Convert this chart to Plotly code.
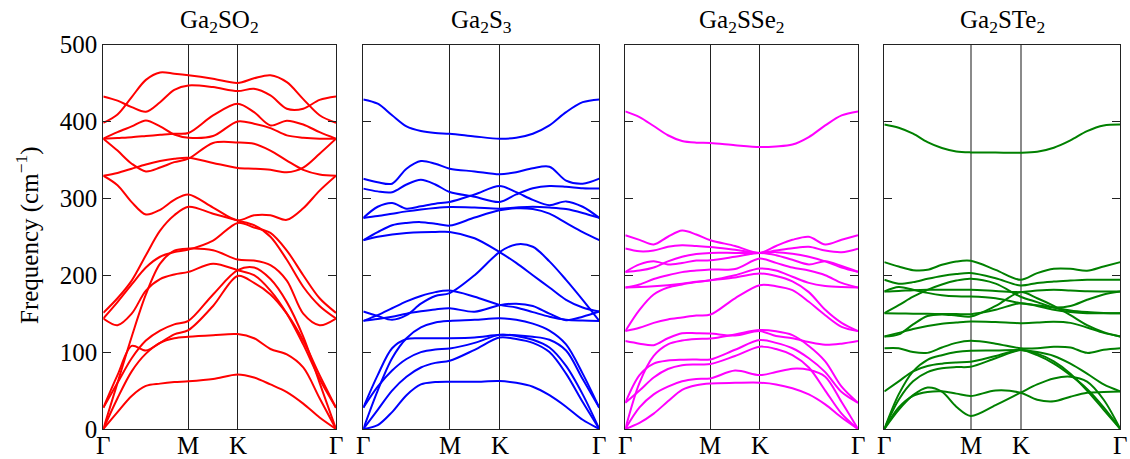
import numpy as np
import plotly.graph_objects as go

# ---- k-path (hexagonal BZ: Γ-M-K-Γ), sample points along the path ----
SEG_GM = 1 / np.sqrt(3)
SEG_MK = 1 / 3
SEG_KG = 2 / 3
k_path = ([SEG_GM * i / 6 for i in range(7)]
          + [SEG_GM + SEG_MK / 2, SEG_GM + SEG_MK]
          + [SEG_GM + SEG_MK + SEG_KG * j / 6 for j in range(1, 7)])
k_tick_vals = [0, SEG_GM, SEG_GM + SEG_MK, SEG_GM + SEG_MK + SEG_KG]
k_tick_text = ["Γ", "M", "K", "Γ"]
freq_ticks = [0, 100, 200, 300, 400, 500]

titles = ["Ga<sub>2</sub>SO<sub>2</sub>", "Ga<sub>2</sub>S<sub>3</sub>",
          "Ga<sub>2</sub>SSe<sub>2</sub>", "Ga<sub>2</sub>STe<sub>2</sub>"]
colors = ["#ff0000", "#0000ff", "#ff00ff", "#008000"]

# ---- phonon bands (cm^-1) read at the 15 k-points ----
ga2so2_bands = [
    [0, 22, 43, 56, 59, 61, 62, 65, 71, 67, 58, 48, 33, 15, 0],
    [0, 40, 75, 98, 112, 118, 120, 122, 123.4, 118, 104, 97, 80, 40, 0],
    [27.7, 70, 108, 102, 112, 123, 128.6, 160, 199, 190, 175, 150, 115, 70, 27.7],
    [27.7, 60, 92, 115, 128, 136, 140.7, 175, 206.5, 210, 195, 165, 120, 60, 0],
    [0, 60, 120, 175, 215, 232, 234.6, 232.5, 220.3, 219, 213, 193, 150, 135, 143.7],
    [143.7, 135, 150, 180, 195, 201, 204.3, 215, 206.5, 200, 180, 150, 110, 65, 27.7],
    [143.7, 165, 188, 210, 224, 230, 233.3, 245, 268, 262, 255, 232, 200, 170, 151],
    [151, 170, 193, 226, 258, 278, 289, 280, 271, 265, 250, 220, 185, 160, 143.7],
    [329.4, 317, 295, 279, 285, 298, 305, 288, 271.4, 278, 278, 272, 287, 310, 329.4],
    [329.4, 333, 338.5, 344, 348.5, 351.5, 352.8, 346, 339.4, 338.5, 337, 333.8, 340, 358, 377.5],
    [377.5, 362, 345, 335, 340, 347, 351.5, 372, 372.7, 371, 362, 349, 337, 331, 329.4],
    [377.5, 386, 393.5, 401.3, 393.5, 383, 378.8, 381, 400, 397, 391.3, 381.8, 378.8, 377.5, 377.5],
    [377.5, 378.5, 379.5, 381, 382.5, 384, 385, 407.8, 423, 412, 394.8, 401, 396, 386, 377.5],
    [432.5, 427, 418.6, 412.5, 425, 441, 446.8, 444.6, 439.4, 442.4, 433.8, 416.5, 416.5, 428, 432.5],
    [398, 409, 431.6, 454, 463.6, 462, 460, 455.5, 450, 456, 460, 451, 429, 408, 398],
]

ga2s3_bands = [
    [0, 5, 22, 44, 58, 61, 61.5, 61.5, 62.3, 60, 55, 44, 29, 12, 0],
    [0, 25, 50, 68, 80, 86, 88.7, 103, 118.9, 117, 112, 100, 72, 35, 0],
    [27.7, 55, 76, 91, 100, 103.5, 104.8, 112, 122.4, 121, 116, 106, 82, 45, 0],
    [27.7, 70, 105, 117, 118, 118, 118, 119, 122.4, 122, 120, 116, 102, 65, 27.7],
    [0, 50, 92, 118, 132, 138.5, 140.6, 142, 144, 142, 137, 128, 110, 72, 27.7],
    [140.6, 143, 146, 150, 153, 155.5, 157, 152.5, 161, 163, 160, 150, 141.5, 146, 152.7],
    [152.7, 147, 142, 148, 163, 173, 176.7, 200, 230, 240, 237, 218, 194, 168, 140.6],
    [140.6, 148, 157, 166, 173, 178, 180, 172, 161.4, 158, 152, 146, 142, 141, 140.6],
    [245.5, 250, 253, 255, 256, 256.2, 256.3, 248, 230, 216, 200, 184, 168, 158, 152.7],
    [245.5, 256, 265, 268, 269, 267, 264.5, 275, 284.4, 287, 286, 280, 268, 256, 245.5],
    [274.5, 277, 280, 283, 285.5, 287.5, 288.7, 288, 286.5, 288, 289, 288, 286, 281, 274.5],
    [274.5, 289, 294, 286.5, 289.6, 293, 295.2, 305, 316, 308, 298, 291, 296, 289, 274.5],
    [312.6, 309, 308, 318, 324, 318, 308.2, 302, 295.2, 305, 313, 316, 315, 313, 312.6],
    [325.5, 321, 319, 338.5, 348.5, 345, 338.5, 335, 331.2, 334, 339, 341, 323, 319, 325.5],
    [428.6, 423, 408, 393.5, 387.4, 384.8, 384, 380.5, 377.5, 378.8, 384, 394.8, 412, 425, 428.6],
]

ga2sse2_bands = [
    [0, 8, 20, 36, 51, 57, 59.3, 60, 60.2, 58, 53, 45, 32, 15, 0],
    [0, 28, 45, 55, 62, 65, 65.8, 76, 70.1, 74, 78.5, 77, 68, 35, 0],
    [34, 50, 67, 78, 83, 84, 84.4, 95, 107, 104, 96, 80, 50, 20, 0],
    [34, 70, 85, 89, 90, 90.3, 90.5, 103, 115.6, 112, 105, 92, 74, 48, 34],
    [0, 60, 95, 110, 115, 117, 117.7, 123, 128.6, 127, 122, 108, 88, 55, 34],
    [114.3, 111, 109, 118, 124.5, 124.5, 124.2, 121.5, 127.3, 121, 118, 113, 109.5, 111, 114.3],
    [127.3, 131.6, 138, 142.4, 145, 147.6, 148.9, 170, 187, 185.7, 180.5, 165.4, 148, 132.9, 127.3],
    [127.3, 155, 175, 184, 188, 191, 193.5, 197, 202.2, 199, 192, 178, 155, 138, 127.3],
    [184, 184.5, 185.5, 187, 189, 191.5, 193.5, 200, 208.7, 206, 198, 190, 186, 184.5, 184],
    [184, 188, 195, 200, 204, 206, 207.4, 208, 221.6, 216, 210, 206, 200, 190, 184],
    [204.3, 214, 218, 214, 216, 219, 219.5, 224, 229, 226, 220, 214, 218, 212, 204.3],
    [204.3, 206, 210, 218, 224, 227.5, 229, 229, 229, 230, 228, 224, 218, 210, 204.3],
    [234.6, 231, 232, 237, 239, 238, 236.8, 233, 229, 232, 235, 237, 232, 230, 234.6],
    [252, 246, 240, 250, 258, 253, 245.5, 238, 229, 238, 246, 250, 240, 246, 252],
    [413, 405.6, 394, 382, 374.5, 372.3, 371.9, 369, 366.7, 367.5, 370, 379.7, 394.8, 407.8, 413],
]

ga2ste2_bands = [
    [0, 25, 44, 54, 48.5, 29, 17, 31, 47.2, 58, 65.8, 68, 61.5, 38, 0],
    [0, 28, 43, 48, 49, 46, 42.9, 50, 47.2, 38, 36, 42, 47, 48, 48.9],
    [0, 38, 62, 74, 79, 80.5, 81, 92, 102.6, 98, 88, 72, 50, 25, 0],
    [48.9, 62, 75, 82, 85, 86.5, 87.4, 95, 102.6, 96, 85, 70, 52, 28, 0],
    [0, 45, 75, 90, 96, 100, 101.7, 102, 102.6, 100, 95, 85, 72, 58, 48.9],
    [105, 105, 100, 99, 106, 112, 114.6, 111, 105, 105, 107, 106, 99, 103, 105],
    [120.2, 125, 130, 134, 137, 138.5, 139.7, 139, 137.6, 138.5, 139.5, 138, 132, 125, 120.2],
    [120.2, 123, 136, 147, 149, 147.5, 146.2, 160, 178, 170, 160, 148, 135, 126, 120.2],
    [150.6, 150.3, 150, 149.8, 149.5, 149.4, 149.3, 155, 163.6, 160, 155, 152, 150.5, 150.5, 150.6],
    [150.6, 161, 172, 181, 188, 193, 195.3, 189, 172, 165, 158, 154, 152, 151, 150.6],
    [178.8, 179.5, 180.5, 181, 181, 181, 181, 179.5, 178, 180, 181, 180, 179, 178.8, 178.8],
    [178.8, 184.5, 181, 177, 174, 172.5, 172.3, 170, 163.6, 161, 158, 160, 168, 175, 178.8],
    [194, 189, 191, 195.3, 199, 201.5, 202.7, 196, 186.6, 190, 191.8, 193, 194, 194, 194],
    [217, 211.3, 206.5, 207, 213.5, 217.8, 218.7, 207, 194, 202.7, 208.3, 208.3, 205.7, 211.3, 217],
    [396, 391.8, 384, 373, 365.4, 361, 359.7, 359.5, 359.3, 360.6, 365.8, 375.3, 387.4, 394.8, 396],
]

panels = [ga2so2_bands, ga2s3_bands, ga2sse2_bands, ga2ste2_bands]

# ---- layout geometry (pixels of the 1130x459 page) ----
W, H = 1130, 459
panel_px = [(103.3, 336.0), (363.3, 599.3), (625.3, 858.0), (884.3, 1120.3)]
top_px, bottom_px = 44.5, 429.0
vline_colors = ["#222222", "#222222", "#222222", "#8a8a8a"]

FONT = "Liberation Serif, Times New Roman, Times, serif"
fig = go.Figure()
annotations = []
layout = dict(
    width=W, height=H,
    margin=dict(l=0, r=0, t=0, b=0, pad=0, autoexpand=False),
    paper_bgcolor="white", plot_bgcolor="white", showlegend=False,
    font=dict(family=FONT, color="black"),
)
total = k_tick_vals[-1]
for i, bands in enumerate(panels):
    sfx = "" if i == 0 else str(i + 1)
    for band in bands:
        fig.add_trace(go.Scatter(
            x=k_path, y=band, mode="lines",
            line=dict(color=colors[i], width=2, shape="spline", smoothing=0.9),
            xaxis="x" + sfx, yaxis="y" + sfx, hoverinfo="skip"))
    x0, x1 = panel_px[i]
    layout["xaxis" + sfx] = dict(
        domain=[x0 / W, x1 / W], range=[0, total], anchor="y" + sfx,
        showline=True, mirror=True, linecolor="#222222", linewidth=1.3,
        tickvals=k_tick_vals, showticklabels=False, ticks="",
        showgrid=True, gridcolor=vline_colors[i], gridwidth=1.3 if i < 3 else 2,
        zeroline=False, fixedrange=True, automargin=False)
    layout["yaxis" + sfx] = dict(
        domain=[(H - bottom_px) / H, (H - top_px) / H], range=[0, 500],
        anchor="x" + sfx, showline=True, mirror="ticks", linecolor="#222222",
        linewidth=1.3, ticks="inside", ticklen=8, tickwidth=1.3, tickcolor="#222222",
        tickvals=freq_ticks, showticklabels=(i == 0),
        tickfont=dict(family=FONT, size=25, color="black"),
        showgrid=False, zeroline=False, fixedrange=True, automargin=False)
    # high-symmetry point labels under the axis
    for kv, kt in zip(k_tick_vals, k_tick_text):
        annotations.append(dict(
            text=kt, x=kv, xref="x" + sfx, y=0, yref="paper",
            showarrow=False, xanchor="center", yanchor="bottom",
            yshift=-1, borderpad=0,
            font=dict(family=FONT, size=25, color="black")))
    annotations.append(dict(
        text=titles[i], x=(x0 + x1) / 2 / W, y=(H - 22) / H,
        xref="paper", yref="paper", showarrow=False,
        font=dict(family=FONT, size=25, color="black"),
        xanchor="center", yanchor="middle"))

annotations.append(dict(
    text="Frequency (cm<sup>−1</sup>)", x=27 / W, y=(H - 235) / H,
    xref="paper", yref="paper", showarrow=False, textangle=-90,
    font=dict(family=FONT, size=25, color="black"),
    xanchor="center", yanchor="middle"))
layout["annotations"] = annotations

fig.update_layout(**layout)
fig.write_html("out.html")
